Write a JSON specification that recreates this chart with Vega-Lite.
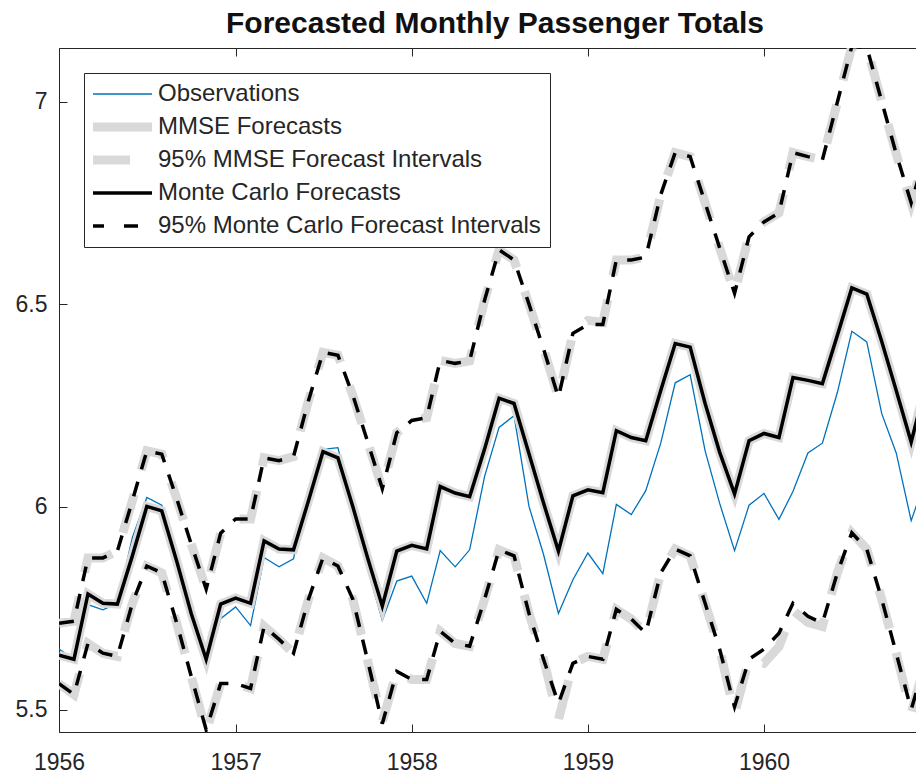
{
  "$schema": "https://vega.github.io/schema/vega-lite/v6.json",
  "width": 857,
  "height": 684,
  "autosize": {"type": "none"},
  "padding": {"left": 59, "top": 48, "right": 0, "bottom": 42},
  "background": "white",
  "title": {"text": "Forecasted Monthly Passenger Totals", "font": "Liberation Sans", "fontSize": 30, "fontWeight": "bold", "color": "#111111", "anchor": "middle", "dx": 7.5, "offset": 9},
  "config": {
    "view": {"stroke": null},
    "axis": {"grid": false, "domainColor": "#262626", "tickColor": "#262626", "labelColor": "#262626", "labelFont": "Liberation Sans", "labelFontSize": 23, "tickSize": -8, "title": null, "domainWidth": 1, "tickWidth": 1},
    "legend": {"orient": "top-left", "offset": 25, "padding": 9, "strokeColor": "#262626", "fillColor": "white", "symbolType": "stroke", "symbolSize": 3844, "clipHeight": 24, "symbolOffset": 16, "labelFontSize": 24, "labelFont": "Liberation Sans", "labelColor": "#262626", "labelOffset": 25, "rowPadding": 9, "labelLimit": 600, "title": null, "cornerRadius": 0}
  },
  "data": {"values": [
    {"date": "1956-01-01", "obs": 5.649, "mmse": 5.634, "mmseLo": 5.564, "mmseHi": 5.713, "mc": 5.634, "mcLo": 5.564, "mcHi": 5.713},
    {"date": "1956-02-01", "obs": 5.624, "mmse": 5.624, "mmseLo": 5.537, "mmseHi": 5.718, "mc": 5.624, "mcLo": 5.537, "mcHi": 5.718},
    {"date": "1956-03-01", "obs": 5.759, "mmse": 5.785, "mmseLo": 5.663, "mmseHi": 5.874, "mc": 5.785, "mcLo": 5.663, "mcHi": 5.874},
    {"date": "1956-04-01", "obs": 5.746, "mmse": 5.762, "mmseLo": 5.639, "mmseHi": 5.874, "mc": 5.762, "mcLo": 5.639, "mcHi": 5.874},
    {"date": "1956-05-01", "obs": 5.762, "mmse": 5.760, "mmseLo": 5.631, "mmseHi": 5.891, "mc": 5.760, "mcLo": 5.631, "mcHi": 5.891},
    {"date": "1956-06-01", "obs": 5.924, "mmse": 5.879, "mmseLo": 5.762, "mmseHi": 6.015, "mc": 5.879, "mcLo": 5.762, "mcHi": 6.015},
    {"date": "1956-07-01", "obs": 6.023, "mmse": 6.001, "mmseLo": 5.854, "mmseHi": 6.138, "mc": 6.001, "mcLo": 5.854, "mcHi": 6.138},
    {"date": "1956-08-01", "obs": 6.004, "mmse": 5.990, "mmseLo": 5.837, "mmseHi": 6.130, "mc": 5.990, "mcLo": 5.837, "mcHi": 6.130},
    {"date": "1956-09-01", "obs": 5.872, "mmse": 5.866, "mmseLo": 5.713, "mmseHi": 6.020, "mc": 5.866, "mcLo": 5.713, "mcHi": 6.020},
    {"date": "1956-10-01", "obs": 5.724, "mmse": 5.737, "mmseLo": 5.582, "mmseHi": 5.908, "mc": 5.737, "mcLo": 5.582, "mcHi": 5.908},
    {"date": "1956-11-01", "obs": 5.602, "mmse": 5.624, "mmseLo": 5.445, "mmseHi": 5.797, "mc": 5.624, "mcLo": 5.450, "mcHi": 5.797},
    {"date": "1956-12-01", "obs": 5.724, "mmse": 5.760, "mmseLo": 5.564, "mmseHi": 5.935, "mc": 5.760, "mcLo": 5.564, "mcHi": 5.935},
    {"date": "1957-01-01", "obs": 5.753, "mmse": 5.775, "mmseLo": 5.564, "mmseHi": 5.970, "mc": 5.775, "mcLo": 5.564, "mcHi": 5.970},
    {"date": "1957-02-01", "obs": 5.707, "mmse": 5.762, "mmseLo": 5.552, "mmseHi": 5.970, "mc": 5.762, "mcLo": 5.552, "mcHi": 5.970},
    {"date": "1957-03-01", "obs": 5.875, "mmse": 5.916, "mmseLo": 5.705, "mmseHi": 6.121, "mc": 5.916, "mcLo": 5.705, "mcHi": 6.121},
    {"date": "1957-04-01", "obs": 5.852, "mmse": 5.896, "mmseLo": 5.673, "mmseHi": 6.114, "mc": 5.896, "mcLo": 5.673, "mcHi": 6.114},
    {"date": "1957-05-01", "obs": 5.872, "mmse": 5.894, "mmseLo": 5.639, "mmseHi": 6.124, "mc": 5.894, "mcLo": 5.639, "mcHi": 6.124},
    {"date": "1957-06-01", "obs": 6.045, "mmse": 6.015, "mmseLo": 5.772, "mmseHi": 6.262, "mc": 6.015, "mcLo": 5.772, "mcHi": 6.262},
    {"date": "1957-07-01", "obs": 6.142, "mmse": 6.136, "mmseLo": 5.874, "mmseHi": 6.381, "mc": 6.136, "mcLo": 5.874, "mcHi": 6.381},
    {"date": "1957-08-01", "obs": 6.146, "mmse": 6.121, "mmseLo": 5.854, "mmseHi": 6.374, "mc": 6.121, "mcLo": 5.854, "mcHi": 6.374},
    {"date": "1957-09-01", "obs": 6.001, "mmse": 6.000, "mmseLo": 5.772, "mmseHi": 6.275, "mc": 6.000, "mcLo": 5.772, "mcHi": 6.275},
    {"date": "1957-10-01", "obs": 5.849, "mmse": 5.876, "mmseLo": 5.624, "mmseHi": 6.163, "mc": 5.876, "mcLo": 5.624, "mcHi": 6.163},
    {"date": "1957-11-01", "obs": 5.720, "mmse": 5.755, "mmseLo": 5.470, "mmseHi": 6.045, "mc": 5.755, "mcLo": 5.465, "mcHi": 6.045},
    {"date": "1957-12-01", "obs": 5.817, "mmse": 5.891, "mmseLo": 5.594, "mmseHi": 6.183, "mc": 5.891, "mcLo": 5.594, "mcHi": 6.183},
    {"date": "1958-01-01", "obs": 5.829, "mmse": 5.905, "mmseLo": 5.574, "mmseHi": 6.213, "mc": 5.905, "mcLo": 5.574, "mcHi": 6.213},
    {"date": "1958-02-01", "obs": 5.762, "mmse": 5.896, "mmseLo": 5.574, "mmseHi": 6.220, "mc": 5.896, "mcLo": 5.574, "mcHi": 6.220},
    {"date": "1958-03-01", "obs": 5.892, "mmse": 6.050, "mmseLo": 5.693, "mmseHi": 6.361, "mc": 6.050, "mcLo": 5.693, "mcHi": 6.361},
    {"date": "1958-04-01", "obs": 5.852, "mmse": 6.034, "mmseLo": 5.663, "mmseHi": 6.354, "mc": 6.034, "mcLo": 5.663, "mcHi": 6.354},
    {"date": "1958-05-01", "obs": 5.894, "mmse": 6.025, "mmseLo": 5.656, "mmseHi": 6.360, "mc": 6.025, "mcLo": 5.656, "mcHi": 6.360},
    {"date": "1958-06-01", "obs": 6.075, "mmse": 6.143, "mmseLo": 5.772, "mmseHi": 6.510, "mc": 6.143, "mcLo": 5.772, "mcHi": 6.510},
    {"date": "1958-07-01", "obs": 6.196, "mmse": 6.268, "mmseLo": 5.894, "mmseHi": 6.634, "mc": 6.268, "mcLo": 5.894, "mcHi": 6.634},
    {"date": "1958-08-01", "obs": 6.225, "mmse": 6.255, "mmseLo": 5.879, "mmseHi": 6.609, "mc": 6.255, "mcLo": 5.879, "mcHi": 6.609},
    {"date": "1958-09-01", "obs": 6.001, "mmse": 6.131, "mmseLo": 5.737, "mmseHi": 6.500, "mc": 6.131, "mcLo": 5.737, "mcHi": 6.500},
    {"date": "1958-10-01", "obs": 5.883, "mmse": 6.010, "mmseLo": 5.624, "mmseHi": 6.390, "mc": 6.010, "mcLo": 5.624, "mcHi": 6.390},
    {"date": "1958-11-01", "obs": 5.737, "mmse": 5.891, "mmseLo": 5.475, "mmseHi": 6.270, "mc": 5.891, "mcLo": 5.515, "mcHi": 6.270},
    {"date": "1958-12-01", "obs": 5.820, "mmse": 6.027, "mmseLo": 5.614, "mmseHi": 6.428, "mc": 6.027, "mcLo": 5.614, "mcHi": 6.428},
    {"date": "1959-01-01", "obs": 5.886, "mmse": 6.042, "mmseLo": 5.631, "mmseHi": 6.460, "mc": 6.042, "mcLo": 5.631, "mcHi": 6.450},
    {"date": "1959-02-01", "obs": 5.835, "mmse": 6.035, "mmseLo": 5.624, "mmseHi": 6.455, "mc": 6.035, "mcLo": 5.624, "mcHi": 6.450},
    {"date": "1959-03-01", "obs": 6.006, "mmse": 6.188, "mmseLo": 5.747, "mmseHi": 6.609, "mc": 6.188, "mcLo": 5.747, "mcHi": 6.609},
    {"date": "1959-04-01", "obs": 5.981, "mmse": 6.171, "mmseLo": 5.723, "mmseHi": 6.609, "mc": 6.171, "mcLo": 5.723, "mcHi": 6.609},
    {"date": "1959-05-01", "obs": 6.040, "mmse": 6.163, "mmseLo": 5.688, "mmseHi": 6.616, "mc": 6.163, "mcLo": 5.688, "mcHi": 6.616},
    {"date": "1959-06-01", "obs": 6.157, "mmse": 6.287, "mmseLo": 5.837, "mmseHi": 6.770, "mc": 6.287, "mcLo": 5.837, "mcHi": 6.770},
    {"date": "1959-07-01", "obs": 6.306, "mmse": 6.403, "mmseLo": 5.896, "mmseHi": 6.874, "mc": 6.403, "mcLo": 5.896, "mcHi": 6.874},
    {"date": "1959-08-01", "obs": 6.326, "mmse": 6.394, "mmseLo": 5.879, "mmseHi": 6.864, "mc": 6.394, "mcLo": 5.879, "mcHi": 6.864},
    {"date": "1959-09-01", "obs": 6.138, "mmse": 6.255, "mmseLo": 5.762, "mmseHi": 6.750, "mc": 6.255, "mcLo": 5.762, "mcHi": 6.750},
    {"date": "1959-10-01", "obs": 6.009, "mmse": 6.135, "mmseLo": 5.649, "mmseHi": 6.639, "mc": 6.135, "mcLo": 5.649, "mcHi": 6.639},
    {"date": "1959-11-01", "obs": 5.892, "mmse": 6.032, "mmseLo": 5.490, "mmseHi": 6.527, "mc": 6.032, "mcLo": 5.507, "mcHi": 6.527},
    {"date": "1959-12-01", "obs": 6.004, "mmse": 6.163, "mmseLo": 5.624, "mmseHi": 6.670, "mc": 6.163, "mcLo": 5.624, "mcHi": 6.666},
    {"date": "1960-01-01", "obs": 6.033, "mmse": 6.181, "mmseLo": 5.614, "mmseHi": 6.703, "mc": 6.181, "mcLo": 5.649, "mcHi": 6.703},
    {"date": "1960-02-01", "obs": 5.969, "mmse": 6.171, "mmseLo": 5.655, "mmseHi": 6.725, "mc": 6.171, "mcLo": 5.688, "mcHi": 6.725},
    {"date": "1960-03-01", "obs": 6.038, "mmse": 6.319, "mmseLo": 5.745, "mmseHi": 6.874, "mc": 6.319, "mcLo": 5.762, "mcHi": 6.874},
    {"date": "1960-04-01", "obs": 6.133, "mmse": 6.312, "mmseLo": 5.715, "mmseHi": 6.864, "mc": 6.312, "mcLo": 5.730, "mcHi": 6.864},
    {"date": "1960-05-01", "obs": 6.157, "mmse": 6.304, "mmseLo": 5.705, "mmseHi": 6.856, "mc": 6.304, "mcLo": 5.713, "mcHi": 6.856},
    {"date": "1960-06-01", "obs": 6.282, "mmse": 6.423, "mmseLo": 5.837, "mmseHi": 6.998, "mc": 6.423, "mcLo": 5.837, "mcHi": 6.998},
    {"date": "1960-07-01", "obs": 6.433, "mmse": 6.540, "mmseLo": 5.936, "mmseHi": 7.136, "mc": 6.540, "mcLo": 5.936, "mcHi": 7.136},
    {"date": "1960-08-01", "obs": 6.407, "mmse": 6.525, "mmseLo": 5.896, "mmseHi": 7.134, "mc": 6.525, "mcLo": 5.896, "mcHi": 7.134},
    {"date": "1960-09-01", "obs": 6.230, "mmse": 6.408, "mmseLo": 5.772, "mmseHi": 7.000, "mc": 6.408, "mcLo": 5.772, "mcHi": 7.000},
    {"date": "1960-10-01", "obs": 6.133, "mmse": 6.287, "mmseLo": 5.639, "mmseHi": 6.871, "mc": 6.287, "mcLo": 5.639, "mcHi": 6.871},
    {"date": "1960-11-01", "obs": 5.966, "mmse": 6.160, "mmseLo": 5.490, "mmseHi": 6.750, "mc": 6.160, "mcLo": 5.500, "mcHi": 6.750},
    {"date": "1960-12-01", "obs": 6.068, "mmse": 6.300, "mmseLo": 5.620, "mmseHi": 6.870, "mc": 6.300, "mcLo": 5.620, "mcHi": 6.870}
  ]},
  "resolve": {"axis": {"x": "independent"}},
  "layer": [
    {
      "mark": {"type": "line", "strokeWidth": 1.3, "clip": true},
      "encoding": {
        "x": {"field": "date", "type": "temporal", "scale": {"type": "utc", "domain": [{"year": 1956, "month": 1, "date": 1, "utc": true}, {"year": 1960, "month": 11, "date": 11, "utc": true}]},
              "axis": {"orient": "bottom", "format": "%Y", "labelPadding": 27, "labelFlush": false, "labelOverlap": false, "values": [{"year": 1956, "month": 1, "date": 1, "utc": true}, {"year": 1957, "month": 1, "date": 1, "utc": true}, {"year": 1958, "month": 1, "date": 1, "utc": true}, {"year": 1959, "month": 1, "date": 1, "utc": true}, {"year": 1960, "month": 1, "date": 1, "utc": true}]}},
        "y": {"field": "obs", "type": "quantitative", "scale": {"domain": [5.4445, 7.132], "nice": false, "zero": false},
              "axis": {"values": [5.5, 6, 6.5, 7], "format": "~g", "labelPadding": 20}},
        "color": {"datum": "Observations", "scale": {"domain": ["Observations", "MMSE Forecasts", "95% MMSE Forecast Intervals", "Monte Carlo Forecasts", "95% Monte Carlo Forecast Intervals"], "range": ["#0072BD", "#d9d9d9", "#d9d9d9", "#000000", "#000000"]},
                  "legend": {"encode": {"symbols": {"update": {
                    "strokeWidth": {"signal": "datum.value == 'Observations' ? 1.3 : (datum.value == 'MMSE Forecasts' || datum.value == '95% MMSE Forecast Intervals') ? 9 : 3.5"},
                    "strokeDash": {"signal": "datum.value == '95% MMSE Forecast Intervals' ? [40, 25] : datum.value == '95% Monte Carlo Forecast Intervals' ? [14, 20] : []"}
                  }}}}}
      }
    },
    {
      "mark": {"type": "line", "strokeWidth": 9, "clip": true},
      "encoding": {
        "x": {"field": "date", "type": "temporal", "scale": {"type": "utc", "domain": [{"year": 1956, "month": 1, "date": 1, "utc": true}, {"year": 1960, "month": 11, "date": 11, "utc": true}]},
              "axis": {"orient": "top", "labels": false, "values": [{"year": 1956, "month": 1, "date": 1, "utc": true}, {"year": 1957, "month": 1, "date": 1, "utc": true}, {"year": 1958, "month": 1, "date": 1, "utc": true}, {"year": 1959, "month": 1, "date": 1, "utc": true}, {"year": 1960, "month": 1, "date": 1, "utc": true}]}},
        "y": {"field": "mmse", "type": "quantitative", "scale": {"domain": [5.4445, 7.132], "nice": false, "zero": false}},
        "color": {"datum": "MMSE Forecasts"}
      }
    },
    {
      "mark": {"type": "line", "strokeWidth": 9, "strokeDash": [40, 25], "clip": true},
      "encoding": {
        "x": {"field": "date", "type": "temporal", "scale": {"type": "utc", "domain": [{"year": 1956, "month": 1, "date": 1, "utc": true}, {"year": 1960, "month": 11, "date": 11, "utc": true}]}, "axis": null},
        "y": {"field": "mmseLo", "type": "quantitative", "scale": {"domain": [5.4445, 7.132], "nice": false, "zero": false}},
        "color": {"datum": "95% MMSE Forecast Intervals"}
      }
    },
    {
      "mark": {"type": "line", "strokeWidth": 9, "strokeDash": [40, 25], "clip": true},
      "encoding": {
        "x": {"field": "date", "type": "temporal", "scale": {"type": "utc", "domain": [{"year": 1956, "month": 1, "date": 1, "utc": true}, {"year": 1960, "month": 11, "date": 11, "utc": true}]}, "axis": null},
        "y": {"field": "mmseHi", "type": "quantitative", "scale": {"domain": [5.4445, 7.132], "nice": false, "zero": false}},
        "color": {"datum": "95% MMSE Forecast Intervals"}
      }
    },
    {
      "mark": {"type": "line", "strokeWidth": 3.5, "clip": true},
      "encoding": {
        "x": {"field": "date", "type": "temporal", "scale": {"type": "utc", "domain": [{"year": 1956, "month": 1, "date": 1, "utc": true}, {"year": 1960, "month": 11, "date": 11, "utc": true}]}, "axis": null},
        "y": {"field": "mc", "type": "quantitative", "scale": {"domain": [5.4445, 7.132], "nice": false, "zero": false}},
        "color": {"datum": "Monte Carlo Forecasts"}
      }
    },
    {
      "mark": {"type": "line", "strokeWidth": 3.5, "strokeDash": [15, 13], "clip": true},
      "encoding": {
        "x": {"field": "date", "type": "temporal", "scale": {"type": "utc", "domain": [{"year": 1956, "month": 1, "date": 1, "utc": true}, {"year": 1960, "month": 11, "date": 11, "utc": true}]}, "axis": null},
        "y": {"field": "mcLo", "type": "quantitative", "scale": {"domain": [5.4445, 7.132], "nice": false, "zero": false}},
        "color": {"datum": "95% Monte Carlo Forecast Intervals"}
      }
    },
    {
      "mark": {"type": "line", "strokeWidth": 3.5, "strokeDash": [15, 13], "clip": true},
      "encoding": {
        "x": {"field": "date", "type": "temporal", "scale": {"type": "utc", "domain": [{"year": 1956, "month": 1, "date": 1, "utc": true}, {"year": 1960, "month": 11, "date": 11, "utc": true}]}, "axis": null},
        "y": {"field": "mcHi", "type": "quantitative", "scale": {"domain": [5.4445, 7.132], "nice": false, "zero": false}},
        "color": {"datum": "95% Monte Carlo Forecast Intervals"}
      }
    }
  ]
}
